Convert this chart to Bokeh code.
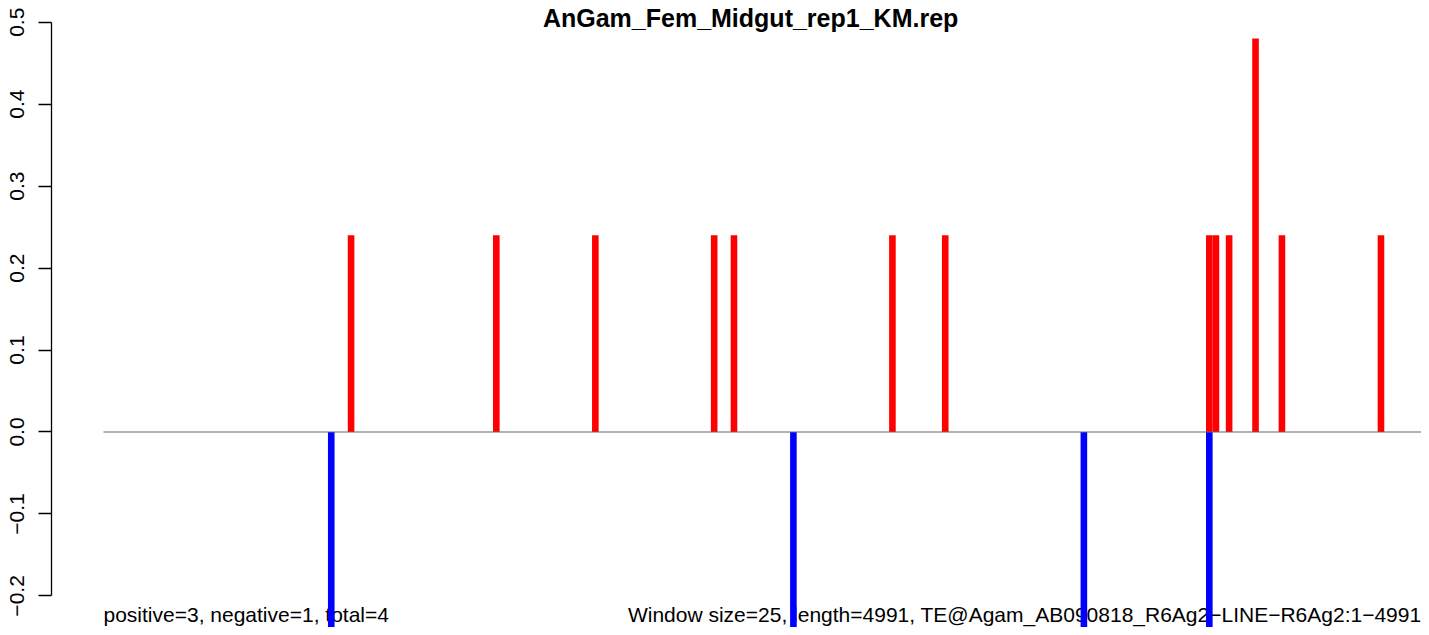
from bokeh.plotting import figure
from bokeh.models import Range1d, FixedTicker, CustomJSTickFormatter
from bokeh.core.properties import value
from bokeh.embed import file_html
from bokeh.resources import INLINE

# ---- data ----
title_text = "AnGam_Fem_Midgut_rep1_KM.rep"
seq_length = 4991
window_size = 25
pos_starts = [925, 1475, 1850, 2300, 2375, 2975, 3175, 4175, 4200, 4250, 4350, 4450, 4825]
pos_values = [0.24, 0.24, 0.24, 0.24, 0.24, 0.24, 0.24, 0.24, 0.24, 0.24, 0.48, 0.24, 0.24]
neg_starts = [850, 2600, 3700, 4175]
neg_values = [-0.24, -0.24, -0.24, -0.24]
y_ticks = [-0.2, -0.1, 0.0, 0.1, 0.2, 0.3, 0.4, 0.5]
left_note = "positive=3, negative=1, total=4"
right_note = "Window size=25, length=4991, TE@Agam_AB090818_R6Ag2\u2212LINE\u2212R6Ag2:1\u22124991"

# ---- layout ----
W, H = 1421, 627
left_border = 51
frame_w = W - left_border
gap_px = 52  # distance between axis line and start of sequence
x_left = -seq_length * gap_px / (frame_w - gap_px)
y_top = 0.52648
y_bottom = -0.23856

FONT = "Liberation Sans"

p = figure(width=W, height=H, output_backend="svg", toolbar_location=None,
           x_range=Range1d(x_left, seq_length), y_range=Range1d(y_bottom, y_top),
           x_axis_type=None, min_border_left=left_border, min_border_right=0,
           min_border_top=0, min_border_bottom=0)
p.xgrid.visible = False
p.ygrid.visible = False
p.outline_line_color = None
p.background_fill_color = "white"
p.border_fill_color = "white"

ax = p.yaxis[0]
ax.ticker = FixedTicker(ticks=y_ticks)
ax.bounds = (min(y_ticks), max(y_ticks))
ax.formatter = CustomJSTickFormatter(code="return tick.toFixed(1).replace('-', '\u2212');")
ax.major_label_orientation = "vertical"
ax.major_label_text_font = FONT
ax.major_label_text_font_size = "21px"
ax.major_label_text_color = "black"
ax.major_label_standoff = 14
ax.major_tick_out = 13
ax.major_tick_in = 0
ax.minor_tick_out = 0
ax.minor_tick_in = 0
ax.axis_line_width = 1.3
ax.major_tick_line_width = 1.3
ax.axis_line_color = "black"
ax.major_tick_line_color = "black"

# texts (drawn below bars, as in the reference)
p.text(x=[seq_length / 2 - 45], y=[0.5057], text=[title_text], text_font=value(FONT),
       text_font_size="25px", text_font_style="bold", text_align="center",
       text_baseline="alphabetic", text_color="black")
p.text(x=[0], y=[-0.2221], text=[left_note], text_font=value(FONT),
       text_font_size="21px", text_align="left", text_baseline="alphabetic",
       text_color="black")
p.text(x=[seq_length], y=[-0.2221], text=[right_note], text_font=value(FONT),
       text_font_size="21px", text_align="right", text_baseline="alphabetic",
       text_color="black")

# bars
p.quad(left=pos_starts, right=[s + window_size for s in pos_starts],
       bottom=[0] * len(pos_starts), top=pos_values,
       fill_color="#FF0000", line_color=None)
p.quad(left=neg_starts, right=[s + window_size for s in neg_starts],
       bottom=[0] * len(neg_starts), top=neg_values,
       fill_color="#0000FF", line_color=None)

# zero line
p.segment(x0=[0], y0=[0], x1=[seq_length], y1=[0], line_color="#666666", line_width=1.2)

open("out.html", "w").write(file_html(p, INLINE))
